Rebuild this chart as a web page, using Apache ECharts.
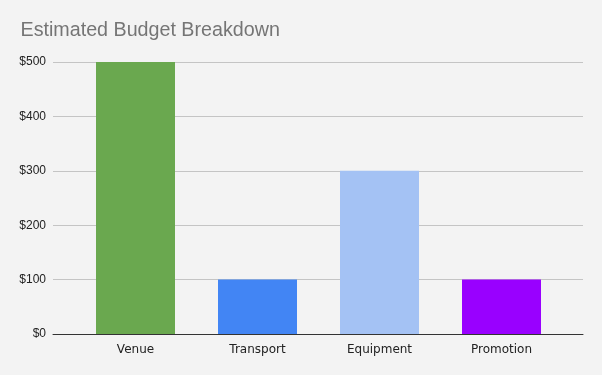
<!DOCTYPE html>
<html><head><meta charset="utf-8">
<script src="https://cdn.jsdelivr.net/npm/echarts@6/dist/echarts.min.js"></script>
<style>html,body{margin:0;padding:0;background:#f3f3f3}#c{width:602px;height:375px}</style>
</head><body><div id="c"></div>
<script>
const categories = ['Venue', 'Transport', 'Equipment', 'Promotion'];
const budget = [500, 100, 300, 100];
const yTicks = [0, 100, 200, 300, 400, 500];
const barColors = ['#6aa84f', '#4285f4', '#a4c2f4', '#9900ff'];

const chart = echarts.init(document.getElementById('c'), null, {renderer: 'canvas'});
chart.setOption({
  backgroundColor: '#f3f3f3',
  animation: false,
  title: {
    text: 'Estimated Budget Breakdown',
    left: 15.5, top: 16,
    textStyle: {fontFamily: 'Liberation Sans, Arial', fontSize: 19.7, fontWeight: 'normal', color: '#757575'}
  },
  grid: [
    {left: 53, right: 19, top: 62, bottom: 41},
    {left: 74.5, right: 39.5, top: 62, bottom: 41}
  ],
  xAxis: [
    {gridIndex: 0, type: 'value', min: 0, max: 1, show: true,
     axisLine: {show: true, onZero: false, lineStyle: {color: '#333333', width: 1}},
     axisTick: {show: false}, axisLabel: {show: false}, splitLine: {show: false}},
    {gridIndex: 1, type: 'category', data: categories,
     axisLine: {show: false}, axisTick: {show: false},
     axisLabel: {margin: 10, fontFamily: 'DejaVu Sans', fontSize: 12, color: '#222222'}}
  ],
  yAxis: [
    {gridIndex: 0, type: 'value', min: yTicks[0], max: yTicks[yTicks.length - 1], interval: 100,
     axisLine: {show: false}, axisTick: {show: false},
     axisLabel: {formatter: v => '$' + v, margin: 7, fontFamily: 'Liberation Sans, Arial', fontSize: 12, color: '#222222'},
     splitLine: {lineStyle: {color: '#c4c4c4', width: 1}}},
    {gridIndex: 1, type: 'value', min: yTicks[0], max: yTicks[yTicks.length - 1], interval: 100, show: false,
     splitLine: {show: false}}
  ],
  series: [{
    type: 'bar', xAxisIndex: 1, yAxisIndex: 1,
    barWidth: 79,
    data: budget.map((v, i) => ({value: v, itemStyle: {color: barColors[i]}}))
  }]
});
</script></body></html>
